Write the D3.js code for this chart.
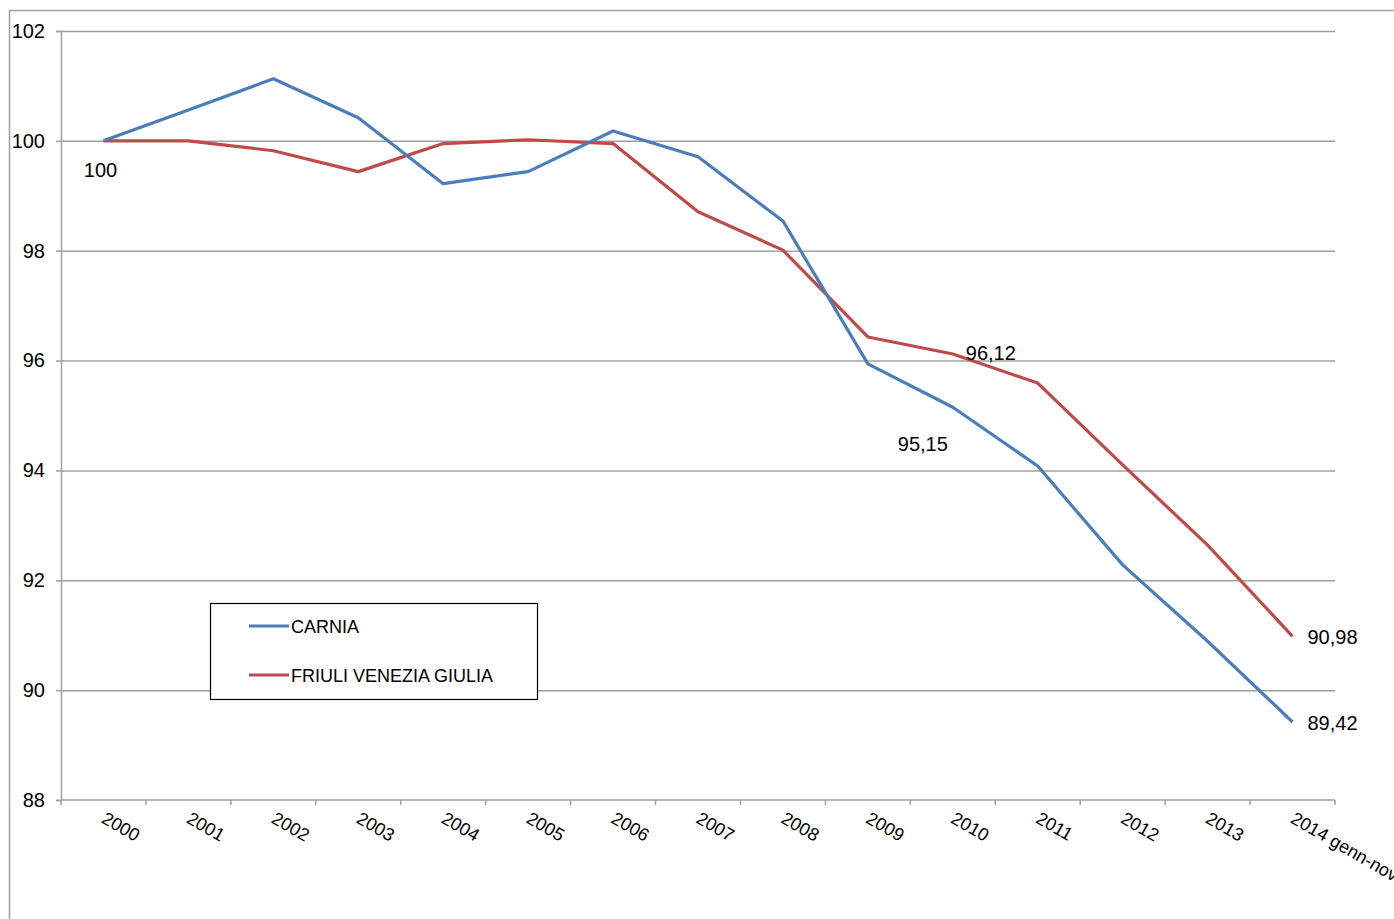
<!DOCTYPE html>
<html>
<head>
<meta charset="utf-8">
<script src="https://cdn.jsdelivr.net/npm/d3@7"></script>
<style>
  html, body { margin: 0; padding: 0; background: #fff; }
  svg { display: block; font-family: "Liberation Sans", Arial, sans-serif; }
</style>
</head>
<body>
<svg id="chart"></svg>
<script>
"use strict";

var years = ['2000', '2001', '2002', '2003', '2004', '2005', '2006', '2007',
    '2008', '2009', '2010', '2011', '2012', '2013', '2014 genn-nov'];

var carnia = [100, 100.56, 101.13, 100.42, 99.22, 99.44, 100.18, 99.71,
    98.54, 95.94, 95.15, 94.08, 92.28, 90.89, 89.42];

var fvg = [100, 100, 99.82, 99.44, 99.95, 100.02, 99.95, 98.71,
    98.01, 96.43, 96.12, 95.59, 94.10, 92.64, 90.98];

var yTicks = [88, 90, 92, 94, 96, 98, 100, 102];

var seriesNames = ['CARNIA', 'FRIULI VENEZIA GIULIA'];
var seriesColors = ['#4a7ebb', '#be4b48'];

// labels shown on the chart: [series index, year index, text, dx, dy]
var pointLabels = [
    [0, 0, '100', -3, 36],
    [0, 10, '95,15', -30, 44],
    [1, 10, '96,12', 38, 6],
    [1, 14, '90,98', 40, 8],
    [0, 14, '89,42', 40, 8]
];

var width = 1394, height = 919;
var margin = { left: 61, top: 31, right: 1335, bottom: 800 };

var svg = d3.select('#chart')
    .attr('width', width)
    .attr('height', height);

// outer frame (only top and left visible)
svg.append('path')
    .attr('d', 'M9.5,919 V10.5 H1394')
    .attr('fill', 'none')
    .attr('stroke', '#a0a0a0')
    .attr('stroke-width', 1.5);

var x = d3.scaleBand()
    .domain(years)
    .range([margin.left, margin.right]);

var y = d3.scaleLinear()
    .domain([88, 102])
    .range([margin.bottom, margin.top]);

// horizontal grid + y axis
var yAxis = svg.append('g')
    .attr('transform', `translate(${margin.left},0)`)
    .call(d3.axisLeft(y).tickValues(yTicks).tickSize(5).tickPadding(11).tickFormat(d3.format('d')));

yAxis.select('.domain').attr('stroke', '#a0a0a0').attr('stroke-width', 1.5);
yAxis.selectAll('.tick line').attr('stroke', '#a0a0a0').attr('stroke-width', 1.5);
yAxis.selectAll('.tick text')
    .attr('fill', '#000')
    .style('font-size', '20px');

yAxis.selectAll('.tick')
    .filter(d => d !== 88)
    .append('line')
    .attr('x1', 0)
    .attr('x2', margin.right - margin.left)
    .attr('stroke', '#a0a0a0')
    .attr('stroke-width', 1.5);

// x axis
var xAxisG = svg.append('g')
    .attr('transform', `translate(0,${margin.bottom})`);

xAxisG.append('line')
    .attr('x1', margin.left)
    .attr('x2', margin.right)
    .attr('stroke', '#a0a0a0')
    .attr('stroke-width', 1.5);

var bounds = years.map(d => x(d)).concat([margin.right]);
xAxisG.selectAll('line.tk')
    .data(bounds)
    .enter()
    .append('line')
    .attr('class', 'tk')
    .attr('x1', d => d)
    .attr('x2', d => d)
    .attr('y1', 0)
    .attr('y2', 5)
    .attr('stroke', '#a0a0a0')
    .attr('stroke-width', 1.5);

xAxisG.selectAll('text')
    .data(years)
    .enter()
    .append('text')
    .attr('transform', d => `translate(${x(d) + x.bandwidth() / 2 - 3},${22}) rotate(30)`)
    .attr('text-anchor', 'start')
    .style('font-size', '18px')
    .attr('fill', '#000')
    .text(d => d);

// lines
var line = d3.line()
    .x((d, i) => x(years[i]) + x.bandwidth() / 2)
    .y(d => y(d));

var allSeries = [carnia, fvg];

svg.selectAll('path.series')
    .data([fvg, carnia])
    .enter()
    .append('path')
    .attr('class', 'series')
    .attr('d', line)
    .attr('fill', 'none')
    .attr('stroke', d => seriesColors[allSeries.indexOf(d)])
    .attr('stroke-width', 3.2)
    .attr('stroke-linejoin', 'round');

// point labels
svg.selectAll('text.plabel')
    .data(pointLabels)
    .enter()
    .append('text')
    .attr('class', 'plabel')
    .attr('x', d => x(years[d[1]]) + x.bandwidth() / 2 + d[3])
    .attr('y', d => y(allSeries[d[0]][d[1]]) + d[4])
    .attr('text-anchor', 'middle')
    .style('font-size', '20px')
    .attr('fill', '#000')
    .text(d => d[2]);

// legend
var legend = svg.append('g')
    .attr('transform', 'translate(210,603)');

legend.append('rect')
    .attr('x', 0.5)
    .attr('y', 0.5)
    .attr('width', 327)
    .attr('height', 96)
    .attr('fill', '#fff')
    .attr('stroke', '#000')
    .attr('stroke-width', 1.2);

var items = legend.selectAll('g.item')
    .data(seriesNames)
    .enter()
    .append('g')
    .attr('class', 'item')
    .attr('transform', (d, i) => `translate(0,${23 + i * 49})`);

items.append('line')
    .attr('x1', 39)
    .attr('x2', 79)
    .attr('stroke', (d, i) => seriesColors[i])
    .attr('stroke-width', 3.2);

items.append('text')
    .attr('x', 81)
    .attr('y', 7)
    .style('font-size', '18px')
    .attr('fill', '#000')
    .text(d => d);
</script>
</body>
</html>
